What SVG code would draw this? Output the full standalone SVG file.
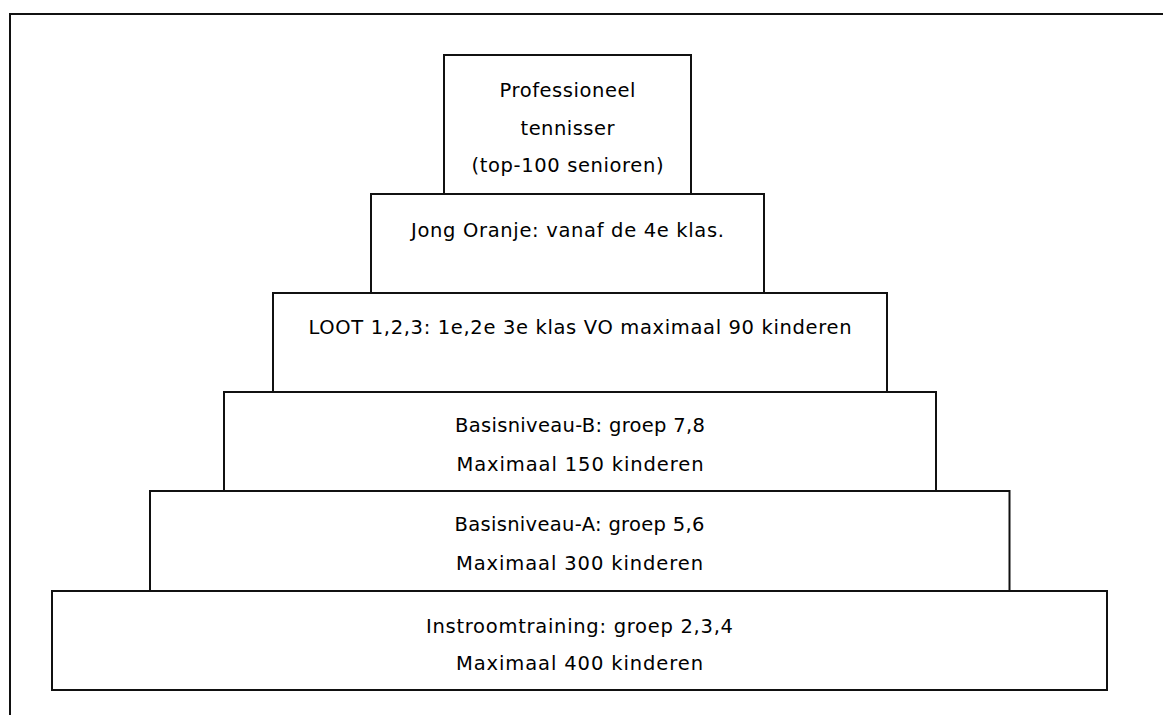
<svg xmlns="http://www.w3.org/2000/svg" width="1163" height="715" viewBox="0 0 1163 715">
<style>
.box{fill:#fff;stroke:#111;stroke-width:2}
.frame{fill:none;stroke:#111;stroke-width:2}
text{font-family:"DejaVu Sans","Liberation Sans",sans-serif;font-size:19.5px;fill:#000;text-anchor:middle}
</style>
<rect width="1163" height="715" fill="#fff"/>
<g id="frame"><path class="frame" d="M10,715 V14 H1163"/></g>
<g id="connectors"></g>
<g id="professioneel">
<rect class="box" x="444" y="55" width="247" height="139"/>
<text x="567.5" y="97" textLength="136" lengthAdjust="spacing">Professioneel</text>
<text x="567.5" y="134.5" textLength="94" lengthAdjust="spacing">tennisser</text>
<text x="567.5" y="172" textLength="192" lengthAdjust="spacing">(top-100 senioren)</text>
</g>
<g id="jong-oranje">
<rect class="box" x="371" y="194" width="393" height="99"/>
<text x="567.5" y="237" textLength="313" lengthAdjust="spacing">Jong Oranje: vanaf de 4e klas.</text>
</g>
<g id="loot">
<rect class="box" x="273" y="293" width="614" height="99"/>
<text x="580" y="334" textLength="543" lengthAdjust="spacing">LOOT 1,2,3: 1e,2e 3e klas VO maximaal 90 kinderen</text>
</g>
<g id="basis-b">
<rect class="box" x="224" y="392" width="712" height="99"/>
<text x="580" y="431.5" textLength="250" lengthAdjust="spacing">Basisniveau-B: groep 7,8</text>
<text x="580" y="471" textLength="247" lengthAdjust="spacing">Maximaal 150 kinderen</text>
</g>
<g id="basis-a">
<rect class="box" x="150" y="491" width="859.5" height="100"/>
<text x="579.5" y="531" textLength="250" lengthAdjust="spacing">Basisniveau-A: groep 5,6</text>
<text x="579.5" y="570" textLength="247" lengthAdjust="spacing">Maximaal 300 kinderen</text>
</g>
<g id="instroom">
<rect class="box" x="52" y="591" width="1055" height="99"/>
<text x="579.5" y="632.5" textLength="307" lengthAdjust="spacing">Instroomtraining: groep 2,3,4</text>
<text x="579.5" y="669.5" textLength="247" lengthAdjust="spacing">Maximaal 400 kinderen</text>
</g>
</svg>
